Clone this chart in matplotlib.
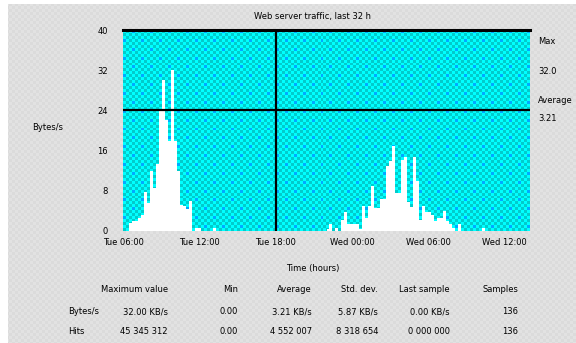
import matplotlib
matplotlib.use("Agg")
import matplotlib.pyplot as plt
import numpy as np

# traffic per 14-minute slot over 32 hours (136 slots)
n_slots = 136
span_hours = 32
busy = {
    2: 1.6, 3: 2.0, 4: 2.0, 5: 2.6, 6: 3.2, 7: 7.8, 8: 5.6, 9: 12, 10: 8.6,
    11: 13.3, 12: 24.3, 13: 30, 14: 22, 15: 18, 16: 32, 17: 18, 18: 12,
    19: 5.2, 20: 5, 21: 4.4, 22: 6, 24: 0.5, 25: 0.5, 30: 0.5,
    68: 0.4, 69: 1.4, 71: 0.6, 73: 2.2, 74: 3.8, 75: 1.4, 76: 1.4, 77: 1.4,
    78: 1.4, 79: 0.4, 80: 5, 81: 2.6, 82: 5, 83: 9, 84: 4.6, 85: 4.6,
    86: 6.4, 87: 6.4, 88: 13, 89: 14, 90: 17, 91: 7.6, 92: 7.6, 93: 14.2,
    94: 14.8, 95: 5.8, 96: 4.8, 97: 14.8, 98: 10, 99: 2.2, 100: 5,
    101: 3.8, 102: 3.8, 103: 3.2, 104: 2, 105: 2.6, 106: 2.6, 107: 4,
    108: 2, 109: 1.4, 110: 0.6, 112: 1.4, 120: 0.6,
}
traffic = [busy.get(i, 0) for i in range(n_slots)]

y_ticks = [0, 8, 16, 24, 32, 40]
x_ticks = [0, 6, 12, 18, 24, 30]
x_labels = ["Tue 06:00", "Tue 12:00", "Tue 18:00", "Wed 00:00", "Wed 06:00", "Wed 12:00"]
limit_line = 24
midnight = 12

col_heads = ["Maximum value", "Min", "Average", "Std. dev.", "Last sample", "Samples"]
row_names = ["Bytes/s", "Hits"]
row_values = [["32.00 KB/s", "0.00", "3.21 KB/s", "5.87 KB/s", "0.00 KB/s", "136"],
              ["45 345 312", "0.00", "4 552 007", "8 318 654", "0 000 000", "136"]]

W, H = 576, 343
fig = plt.figure(figsize=(W / 100, H / 100), dpi=100)

# grey dithered backdrop with white strip on the left and top
bg = fig.add_axes([0, 0, 1, 1])
by, bx = np.mgrid[0:H, 0:W]
chk = ((bx // 3 + by // 3) % 2).astype(float)
grey = np.where(chk[..., None] > 0, 0.89, 0.86) * np.ones((H, W, 3))
grey[:, :8] = 1.0
grey[:4, :] = 1.0
bg.imshow(grey, aspect="auto", interpolation="nearest")
bg.axis("off")

L, R, T, B = 123, 530, 30, 231
ax = fig.add_axes([L / W, 1 - B / H, (R - L) / W, (B - T) / H])

# cyan dither inside the plot area
ph, pw = (B - T) // 3 + 1, (R - L) // 3 + 1
cy, cx = np.mgrid[0:ph, 0:pw]
pat = np.zeros((ph, pw, 3))
pat[...] = (0, 1, 1)
odd = (cx + cy) % 2 == 1
pat[odd] = (0, 0.8, 0.8)
blue = odd & (cx % 3 == 0) & (cy % 3 == 0)
pat[blue] = (0, 0.67, 1)
ax.imshow(pat, extent=[0, span_hours, 0, 40], aspect="auto",
          interpolation="nearest", zorder=0)

slot = span_hours / n_slots
x = np.arange(n_slots) * slot
ax.bar(x, traffic, width=slot, align="edge", color="white", linewidth=0, zorder=2)

ax.axhline(limit_line, color="black", lw=1.6, zorder=3)
ax.axvline(midnight, color="black", lw=1.6, zorder=3)
ax.axhline(40, color="black", lw=2.2, zorder=3, clip_on=False)

ax.set_xlim(0, span_hours)
ax.set_ylim(0, 40)
for s in ax.spines.values():
    s.set_visible(False)
ax.set_yticks(y_ticks)
ax.set_yticklabels([str(v) for v in y_ticks])
ax.set_xticks(x_ticks)
ax.set_xticklabels(x_labels)
ax.tick_params(length=0, labelsize=6)
ax.tick_params(axis="y", pad=11)
ax.tick_params(axis="x", pad=5)

fs = 6
fig.text(313 / W, 1 - 17 / H, "Web server traffic, last 32 h", ha="center", va="center", fontsize=fs)
fig.text(48 / W, 1 - 128 / H, "Bytes/s", ha="center", va="center", fontsize=fs)
fig.text(313 / W, 1 - 268 / H, "Time (hours)", ha="center", va="center", fontsize=fs)

# legend notes on the right
for txt, yy in zip(["Max", "32.0", "Average", "3.21"], [42, 72, 100, 119]):
    fig.text(538 / W, 1 - yy / H, txt, ha="left", va="center", fontsize=fs)

# summary table below the chart
col_right = [168, 238, 312, 378, 450, 518]
for xr, head in zip(col_right, col_heads):
    fig.text(xr / W, 1 - 290 / H, head, ha="right", va="center", fontsize=fs)
for yy, name, vals in zip([312, 331], row_names, row_values):
    fig.text(68 / W, 1 - yy / H, name, ha="left", va="center", fontsize=fs)
    for xr, v in zip(col_right, vals):
        fig.text(xr / W, 1 - yy / H, v, ha="right", va="center", fontsize=fs)

fig.savefig("out.png", dpi=100)
